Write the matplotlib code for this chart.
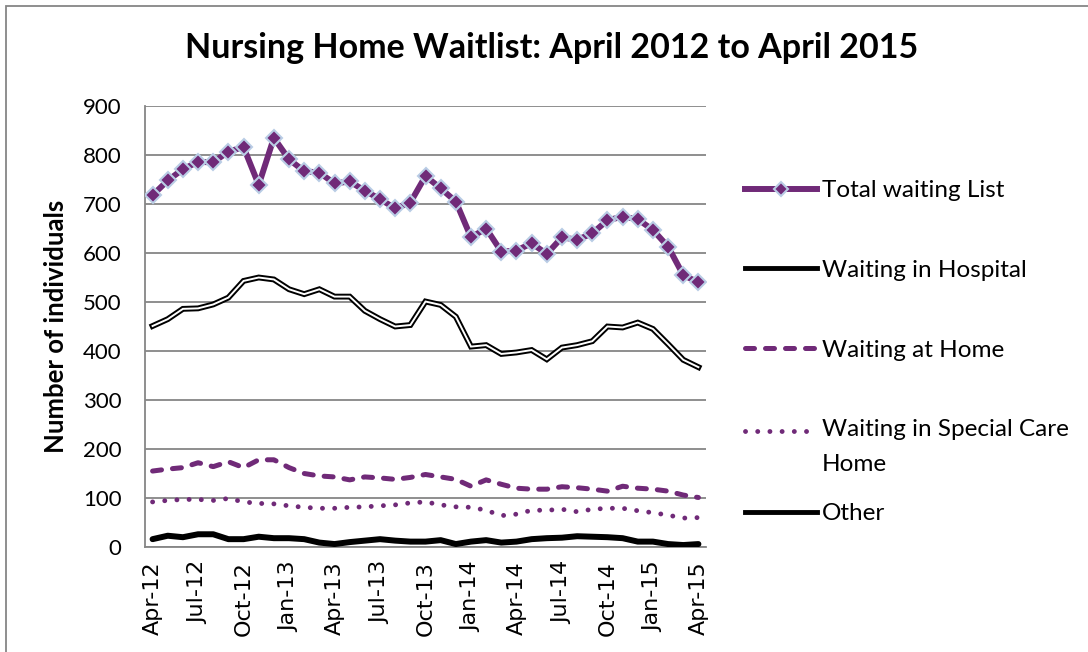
import numpy as np
import pandas as pd
import matplotlib
matplotlib.use("Agg")
from matplotlib import pyplot as plt
from matplotlib.patches import Rectangle
from matplotlib.legend_handler import HandlerLine2D

# Categories: monthly, Apr 2012 .. Apr 2015
months = pd.date_range("2012-04-01", "2015-04-01", freq="MS")
month_labels = [m.strftime("%b-%y") for m in months]

total = [718, 748, 771, 786, 785, 807, 816, 739, 835, 791, 767, 764, 742,
         746, 727, 710, 691, 703, 757, 732, 705, 632, 650, 603, 605, 620,
         598, 632, 627, 640, 667, 674, 669, 647, 613, 555, 540]
hospital = [451, 465, 486, 487, 495, 509, 543, 550, 546, 526, 516, 526, 511,
            511, 482, 465, 450, 453, 501, 494, 470, 409, 412, 394, 397, 402,
            383, 407, 412, 420, 450, 448, 458, 445, 414, 382, 367]
home = [155, 159, 162, 172, 164, 174, 162, 178, 178, 162, 150, 145, 143,
        137, 143, 141, 138, 142, 148, 143, 138, 124, 137, 128, 120, 118,
        118, 123, 121, 118, 114, 124, 120, 118, 114, 106, 101]
special_care = [92, 95, 97, 97, 95, 99, 92, 89, 88, 84, 81, 79, 79,
                81, 82, 84, 86, 90, 92, 86, 82, 81, 75, 64, 67, 75,
                75, 77, 72, 77, 79, 79, 74, 70, 65, 59, 60]
other = [16, 23, 20, 26, 26, 16, 16, 21, 18, 18, 16, 9, 6,
         10, 13, 16, 13, 11, 11, 14, 6, 11, 14, 9, 11, 16,
         18, 19, 22, 21, 20, 18, 11, 11, 6, 4, 6]

PURPLE = "#702A78"
GRID = "#868686"
LEG_FS = 17.5


class TopLineHandler(HandlerLine2D):
    """Put the legend line next to the first line of a two-line label."""

    def __init__(self, shift, **kw):
        super().__init__(**kw)
        self.shift = shift

    def create_artists(self, legend, orig_handle, xdescent, ydescent, width,
                       height, fontsize, trans):
        artists = super().create_artists(legend, orig_handle, xdescent, ydescent,
                                         width, height, fontsize, trans)
        for a in artists:
            a.set_ydata(np.asarray(a.get_ydata()) + self.shift)
        return artists


plt.rcParams["font.family"] = ["Lato", "DejaVu Sans"]

fig = plt.figure(figsize=(10.88, 6.52), dpi=100)
ax = fig.add_axes([145 / 1088, 1 - 547 / 652, (706 - 145) / 1088, (547 - 106) / 652])

x = np.arange(len(months))

ax.plot(x, total, color=PURPLE, lw=4.3, marker="D", markersize=8.5,
        markerfacecolor=PURPLE, markeredgecolor="#B9CDE5",
        markeredgewidth=1.5, zorder=6)
# double line look for hospital series
ax.plot(x, hospital, color="black", lw=4.2, solid_joinstyle="miter", zorder=4)
ax.plot(x, hospital, color="white", lw=1.4, solid_joinstyle="miter", zorder=5)
ax.plot(x, home, color=PURPLE, lw=3.6, dashes=(1.8, 2.2),
        dash_capstyle="round", zorder=4)
ax.plot(x, special_care, color=PURPLE, lw=3.5, dashes=(0.01, 2.5),
        dash_capstyle="round", zorder=4)
ax.plot(x, other, color="black", lw=4.3, solid_capstyle="round", zorder=4)

ax.set_xlim(-0.5, len(months) - 0.5)
ax.set_ylim(0, 900)
ax.set_yticks(range(0, 901, 100))
ax.set_xticks(x[::3])
ax.set_xticklabels(month_labels[::3], rotation=90, family="DejaVu Sans",
                   fontsize=16)
ax.tick_params(axis="both", length=0)
ax.tick_params(axis="y", labelsize=16, pad=17)
ax.tick_params(axis="x", pad=10)
ax.yaxis.grid(True, color=GRID, lw=1.3)
ax.set_axisbelow(True)
for side in ["top", "right"]:
    ax.spines[side].set_visible(False)
for side in ["left", "bottom"]:
    ax.spines[side].set_color(GRID)
    ax.spines[side].set_linewidth(1.3)

ax.set_ylabel("Number of individuals", fontsize=18.5, fontweight="bold")
ax.yaxis.set_label_coords(-0.137, 0.5)

fig.text(552 / 1088, 1 - 48 / 652, "Nursing Home Waitlist: April 2012 to April 2015",
         ha="center", va="center", fontsize=24.5, fontweight="bold")

# legend handles
h_total = plt.Line2D([], [], color=PURPLE, lw=4.3, marker="D", markersize=7,
                     markerfacecolor=PURPLE, markeredgecolor="#B9CDE5",
                     markeredgewidth=1.5)
h_hosp = plt.Line2D([], [], color="black", lw=3.5)
h_home = plt.Line2D([], [], color=PURPLE, lw=3.6, dashes=(1.8, 2.2),
                    dash_capstyle="round")
h_special = plt.Line2D([], [], color=PURPLE, lw=3.5, dashes=(0.01, 2.5),
                       dash_capstyle="round")
h_other = plt.Line2D([], [], color="black", lw=3.5)

leg_kw = dict(loc="upper left", frameon=False, fontsize=LEG_FS,
              handlelength=2.95, handletextpad=0.2, labelspacing=2.42,
              borderaxespad=0, borderpad=0)
leg1 = fig.legend([h_total, h_hosp, h_home, h_special],
                  ["Total waiting List", "Waiting in Hospital", "Waiting at Home",
                   "Waiting in Special Care\nHome"],
                  bbox_to_anchor=(745 / 1088, 1 - 180 / 652),
                  handler_map={h_special: TopLineHandler(shift=11.9)},
                  **leg_kw)
leg1.get_texts()[3].set_linespacing(1.8)
fig.legend([h_other], ["Other"], bbox_to_anchor=(745 / 1088, 1 - 503 / 652),
           **leg_kw)

fig.patches.append(Rectangle((5.5 / 1088, -0.1), 1.2, 1.1 - 5.5 / 652,
                             transform=fig.transFigure, fill=False,
                             edgecolor=GRID, lw=1.3))

fig.savefig("out.png", dpi=100)
